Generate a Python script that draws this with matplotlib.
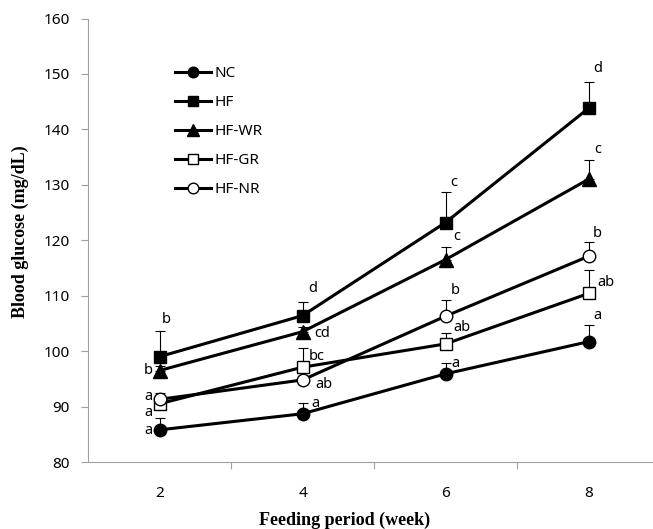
import matplotlib.pyplot as plt
import numpy as np

weeks = ['2', '4', '6', '8']
groups = ['NC', 'HF', 'HF-WR', 'HF-GR', 'HF-NR']

nc = [85.8, 88.7, 95.9, 101.7]
hf = [99.0, 106.4, 123.2, 143.8]
hf_wr = [96.5, 103.5, 116.5, 131.0]
hf_gr = [90.5, 97.1, 101.3, 110.4]
hf_nr = [91.3, 94.8, 106.3, 117.1]

nc_err = [2.1, 1.9, 2.0, 3.1]
hf_err = [4.6, 2.4, 5.5, 4.7]
hf_wr_err = [0.8, 0.8, 2.3, 3.4]
hf_gr_err = [1.2, 3.4, 2.0, 4.2]
hf_nr_err = [1.1, 0.8, 2.9, 2.5]

nc_sig = ['a', 'a', 'a', 'a']
hf_sig = ['b', 'd', 'c', 'd']
hf_wr_sig = ['b', 'cd', 'c', 'c']
hf_gr_sig = ['a', 'bc', 'ab', 'ab']
hf_nr_sig = ['a', 'ab', 'b', 'b']

values = [nc, hf, hf_wr, hf_gr, hf_nr]
errors = [nc_err, hf_err, hf_wr_err, hf_gr_err, hf_nr_err]
letters = [nc_sig, hf_sig, hf_wr_sig, hf_gr_sig, hf_nr_sig]

# marker style per group
markers = ['o', 's', '^', 's', 'o']
faces = ['black', 'black', 'black', 'white', 'white']
msizes = [9, 9, 9.5, 8.5, 9]

# letter offsets in pixels from the data point
offsets = [
    [(-11, -1), (13, 10), (10, 10), (9, 26)],
    [(7, 37), (10, 27), (8, 40), (9, 40)],
    [(-11, 0), (20, -2), (11, 23), (9, 30)],
    [(-11, -9), (14, 11), (16, 16), (17, 11)],
    [(-11, 3), (21, -5), (10, 26), (9, 23)],
]

tick_font = 'Noto Sans'
label_font = {'family': 'Liberation Serif', 'weight': 'bold', 'size': 13}

fig = plt.figure(figsize=(6.53, 5.29), dpi=100)
ax = fig.add_axes([88 / 653, 1 - 462 / 529, 572 / 653, 443.5 / 529])

x = np.arange(len(weeks)) + 0.5

for vals, err, m, fc, ms, name in zip(values, errors, markers, faces, msizes, groups):
    ax.errorbar(x, vals, yerr=[np.zeros(len(err)), err], fmt='none',
                ecolor='black', elinewidth=0.8, capsize=3.5, capthick=0.8, zorder=2)
    ax.plot(x, vals, color='black', lw=2.2, marker=m, markersize=ms,
            markerfacecolor=fc, markeredgecolor='black', markeredgewidth=1.0,
            label=name, zorder=3)

for vals, labs, offs in zip(values, letters, offsets):
    for xi, v, lab, off in zip(x, vals, labs, offs):
        ax.annotate(lab, (xi, v), xytext=off, textcoords='offset pixels',
                    ha='center', va='center', fontsize=10.5, family=tick_font)

ax.set_xlim(0, 4)
ax.set_ylim(80, 160)
ax.set_yticks(np.arange(80, 161, 10))
ax.set_xticks(x)
ax.set_xticklabels(weeks)
ax.set_xticks(np.arange(1, 4), minor=True)
ax.tick_params(axis='x', which='major', length=0, pad=17)
ax.tick_params(axis='x', which='minor', length=5, color='#a0a0a0', width=0.8)
ax.tick_params(axis='y', length=5, color='#a0a0a0', width=0.8, pad=8)
for t in ax.get_xticklabels() + ax.get_yticklabels():
    t.set_family(tick_font)
    t.set_fontsize(11)

for s in ['top', 'right']:
    ax.spines[s].set_visible(False)
for s in ['left', 'bottom']:
    ax.spines[s].set_color('#a0a0a0')
    ax.spines[s].set_linewidth(0.8)

ax.set_xlabel('Feeding period (week)', fontdict=label_font)
ax.xaxis.set_label_coords((345 - 88) / 572, -58 / 443.5)
ax.xaxis.label.set_va('center')
ax.set_ylabel('Blood glucose (mg/dL)', fontdict=label_font)
ax.yaxis.set_label_coords(-68 / 572, (462 - 232) / 443.5)
ax.yaxis.label.set_va('center')

leg = ax.legend(loc='upper left', bbox_to_anchor=((175 - 88) / 572, (462 - 66) / 443.5),
                frameon=False, borderpad=0, borderaxespad=0, handlelength=2.35,
                handletextpad=0.25, labelspacing=0.92, markerscale=0.85,
                prop={'family': tick_font, 'size': 11})

fig.savefig('out.png', dpi=100)
